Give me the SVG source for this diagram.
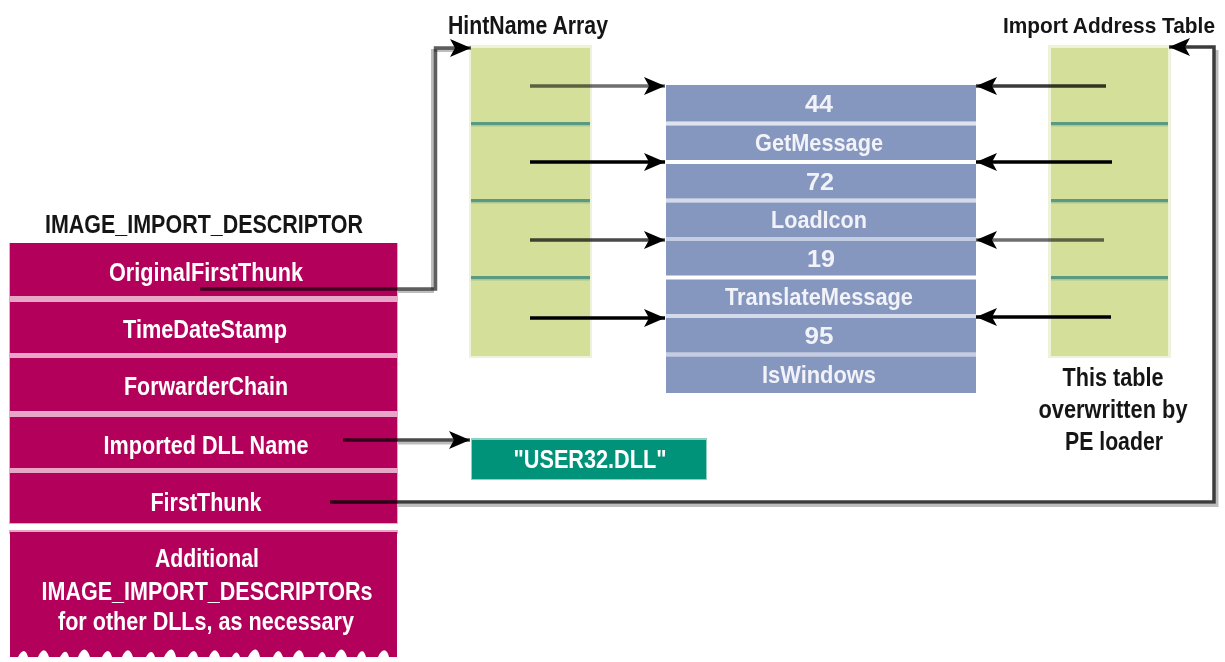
<svg xmlns="http://www.w3.org/2000/svg" width="1225" height="662" viewBox="0 0 1225 662">
  <style>
    .lbl { font-family: "Liberation Sans", Arial, sans-serif; font-weight: bold; font-size: 25px; fill: #151515; text-anchor: middle; }
    .wt { font-family: "Liberation Sans", Arial, sans-serif; font-weight: bold; font-size: 25px; fill: #ffffff; text-anchor: middle; }
    .bt { font-family: "Liberation Sans", Arial, sans-serif; font-weight: bold; font-size: 24px; fill: #f2f3f9; text-anchor: middle; }
    .mag { fill: #b3005a; }
    .blue { fill: #8596bf; }
    .green { fill: #d4df99; }
    .gedge { fill: #eef2d6; }
    .gsep { fill: #5a9a80; }
    .gsep2 { fill: #a9c794; }
    .wire { fill: none; stroke-width: 3.5; mix-blend-mode: multiply; }
    .shadow { fill: none; stroke: #bdbdbd; stroke-width: 3; }
  </style>
  <defs>
    <marker id="head" markerUnits="userSpaceOnUse" markerWidth="21" markerHeight="18" refX="21" refY="9" orient="auto">
      <path d="M0,0 L21,9 L0,18 L5,9 z" fill="#000"/>
    </marker>
  </defs>

  <rect width="1225" height="662" fill="#ffffff"/>

  <!-- IMAGE_IMPORT_DESCRIPTOR structure -->
  <g id="descriptor">
    <text class="lbl" x="204" y="233" textLength="318" lengthAdjust="spacingAndGlyphs">IMAGE_IMPORT_DESCRIPTOR</text>
    <rect x="9" y="243" width="389" height="281" fill="#e7a6c6"/>
    <rect class="mag" x="10" y="243" width="387" height="53"/>
    <rect class="mag" x="10" y="302" width="387" height="51"/>
    <rect class="mag" x="10" y="358" width="387" height="53"/>
    <rect class="mag" x="10" y="417" width="387" height="51"/>
    <rect class="mag" x="10" y="473" width="387" height="50"/>
    <text class="wt" x="206" y="281" textLength="194" lengthAdjust="spacingAndGlyphs">OriginalFirstThunk</text>
    <text class="wt" x="205" y="338" textLength="164" lengthAdjust="spacingAndGlyphs">TimeDateStamp</text>
    <text class="wt" x="206" y="395" textLength="164" lengthAdjust="spacingAndGlyphs">ForwarderChain</text>
    <text class="wt" x="206" y="454" textLength="205" lengthAdjust="spacingAndGlyphs">Imported DLL Name</text>
    <text class="wt" x="206" y="511" textLength="111" lengthAdjust="spacingAndGlyphs">FirstThunk</text>
  </g>

  <!-- further descriptors, torn edge at the bottom -->
  <g id="more-descriptors">
    <rect x="9" y="530" width="389" height="4" fill="#e7a6c6"/>
    <path class="mag" d="M10,532 H397 V657
      h-8 c-2,-9 -7,-9 -11,0 h-12 c-2,-7 -5,-8 -9,0 h-10 c-3,-10 -8,-10 -12,0 h-9 c-2,-6 -5,-7 -8,0
      h-14 c-2,-9 -7,-9 -11,0 h-10 c-3,-8 -6,-8 -10,0 h-13 c-2,-10 -7,-10 -12,0 h-8 c-2,-6 -5,-6 -8,0
      h-12 c-3,-9 -7,-9 -11,0 h-11 c-2,-8 -6,-8 -10,0 h-12 c-2,-10 -7,-10 -12,0 h-9 c-2,-6 -5,-7 -9,0
      h-13 c-3,-9 -7,-9 -11,0 h-10 c-2,-8 -6,-8 -10,0 h-12 c-3,-10 -8,-10 -12,0 h-9 c-2,-7 -5,-7 -9,0
      h-11 c-3,-9 -7,-9 -11,0 h-10 c-2,-8 -6,-8 -10,0 h-8 L10,657 z"/>
    <text class="wt" x="207" y="567" textLength="104" lengthAdjust="spacingAndGlyphs">Additional</text>
    <text class="wt" x="207" y="600" textLength="331" lengthAdjust="spacingAndGlyphs">IMAGE_IMPORT_DESCRIPTORs</text>
    <text class="wt" x="206" y="630" textLength="296" lengthAdjust="spacingAndGlyphs">for other DLLs, as necessary</text>
  </g>

  <!-- Hint/Name array -->
  <g id="hintname-array">
    <text class="lbl" x="528" y="34" textLength="160" lengthAdjust="spacingAndGlyphs">HintName Array</text>
    <rect class="gedge" x="469" y="45" width="123" height="313"/>
    <rect class="green" x="471" y="48" width="119" height="308"/>
    <rect class="gsep" x="471" y="122" width="119" height="3"/>
    <rect class="gsep2" x="471" y="125" width="119" height="1.5"/>
    <rect class="gsep" x="471" y="199" width="119" height="3"/>
    <rect class="gsep2" x="471" y="202" width="119" height="1.5"/>
    <rect class="gsep" x="471" y="276" width="119" height="3"/>
    <rect class="gsep2" x="471" y="279" width="119" height="1.5"/>
  </g>

  <!-- Import Address Table -->
  <g id="import-address-table">
    <text class="lbl" x="1109" y="33" style="font-size:22px" textLength="212" lengthAdjust="spacingAndGlyphs">Import Address Table</text>
    <rect class="gedge" x="1048" y="45" width="123" height="313"/>
    <rect class="green" x="1051" y="48" width="117" height="308"/>
    <rect class="gsep" x="1051" y="122" width="117" height="3"/>
    <rect class="gsep2" x="1051" y="125" width="117" height="1.5"/>
    <rect class="gsep" x="1051" y="199" width="117" height="3"/>
    <rect class="gsep2" x="1051" y="202" width="117" height="1.5"/>
    <rect class="gsep" x="1051" y="276" width="117" height="3"/>
    <rect class="gsep2" x="1051" y="279" width="117" height="1.5"/>
    <text class="lbl" x="1113" y="386" textLength="101" lengthAdjust="spacingAndGlyphs">This table</text>
    <text class="lbl" x="1113" y="418" textLength="149" lengthAdjust="spacingAndGlyphs">overwritten by</text>
    <text class="lbl" x="1114" y="450" textLength="98" lengthAdjust="spacingAndGlyphs">PE loader</text>
  </g>

  <!-- IMAGE_IMPORT_BY_NAME entries: hint + name -->
  <g id="import-by-name">
    <rect x="666" y="85" width="310" height="308" fill="#ffffff"/>
    <rect x="666" y="121.5" width="310" height="4" fill="#dfe3ee"/>
    <rect x="666" y="198.5" width="310" height="4" fill="#d4dae9"/>
    <rect x="666" y="237" width="310" height="4" fill="#c5cde1"/>
    <rect x="666" y="314" width="310" height="4" fill="#d4dae9"/>
    <rect x="666" y="352.5" width="310" height="4" fill="#c5cde1"/>
    <rect class="blue" x="666" y="85" width="310" height="36.5"/>
    <rect class="blue" x="666" y="125.5" width="310" height="34.5"/>
    <rect class="blue" x="666" y="164" width="310" height="34.5"/>
    <rect class="blue" x="666" y="202.5" width="310" height="34.5"/>
    <rect class="blue" x="666" y="241" width="310" height="34.5"/>
    <rect class="blue" x="666" y="279.5" width="310" height="34.5"/>
    <rect class="blue" x="666" y="318" width="310" height="34.5"/>
    <rect class="blue" x="666" y="356.5" width="310" height="36.5"/>
    <text class="bt" x="819" y="112" textLength="28" lengthAdjust="spacingAndGlyphs">44</text>
    <text class="bt" x="819" y="151" textLength="128" lengthAdjust="spacingAndGlyphs">GetMessage</text>
    <text class="bt" x="820" y="190" textLength="28" lengthAdjust="spacingAndGlyphs">72</text>
    <text class="bt" x="819" y="228" textLength="96" lengthAdjust="spacingAndGlyphs">LoadIcon</text>
    <text class="bt" x="821" y="267" textLength="28" lengthAdjust="spacingAndGlyphs">19</text>
    <text class="bt" x="819" y="305" textLength="188" lengthAdjust="spacingAndGlyphs">TranslateMessage</text>
    <text class="bt" x="819" y="344" textLength="29" lengthAdjust="spacingAndGlyphs">95</text>
    <text class="bt" x="819" y="383" textLength="114" lengthAdjust="spacingAndGlyphs">IsWindows</text>
  </g>

  <!-- DLL name string -->
  <g id="dll-name">
    <rect x="471" y="438" width="236" height="42" fill="#8fd0c0"/>
    <rect x="472" y="440" width="234" height="39" fill="#00937a"/>
    <text class="wt" x="590" y="468" textLength="153" lengthAdjust="spacingAndGlyphs">"USER32.DLL"</text>
  </g>

  <!-- Pointers -->
  <g id="connectors">
    <!-- OriginalFirstThunk -> HintName array -->
    <polyline class="shadow" points="398,291.5 432.5,291.5 432.5,50.5 462,50.5"/>
    <polyline class="wire" stroke="#5e5e5e" points="200,289 435.5,289 435.5,48 471,48" marker-end="url(#head)"/>

    <!-- HintName entries -> hint/name pairs -->
    <line class="wire" stroke="#6e6e6e" stroke-width="4.5" x1="530" y1="86" x2="665" y2="86" marker-end="url(#head)"/>
    <line class="wire" stroke="#000" x1="530" y1="162" x2="665" y2="162" marker-end="url(#head)"/>
    <line class="wire" stroke="#4a4a4a" x1="530" y1="240" x2="665" y2="240" marker-end="url(#head)"/>
    <line class="wire" stroke="#000" x1="530" y1="318" x2="665" y2="318" marker-end="url(#head)"/>

    <!-- IAT entries -> hint/name pairs -->
    <line class="wire" stroke="#3a3a3a" stroke-width="4.5" x1="1106" y1="86" x2="976" y2="86" marker-end="url(#head)"/>
    <line class="wire" stroke="#000" x1="1112" y1="162" x2="976" y2="162" marker-end="url(#head)"/>
    <line class="wire" stroke="#6e6e6e" stroke-width="4" x1="1104" y1="240" x2="976" y2="240" marker-end="url(#head)"/>
    <line class="wire" stroke="#000" x1="1111" y1="317" x2="976" y2="317" marker-end="url(#head)"/>

    <!-- Imported DLL Name -> string -->
    <line class="shadow" x1="398" y1="443" x2="455" y2="443"/>
    <line class="wire" stroke="#4a4a4a" x1="343" y1="440" x2="470" y2="440" marker-end="url(#head)"/>

    <!-- FirstThunk -> Import Address Table -->
    <polyline class="shadow" points="398,505.5 1217,505.5 1217,50"/>
    <polyline class="wire" stroke="#3c3c3c" points="330,502 1214,502 1214,47 1169,47" marker-end="url(#head)"/>
  </g>
</svg>
